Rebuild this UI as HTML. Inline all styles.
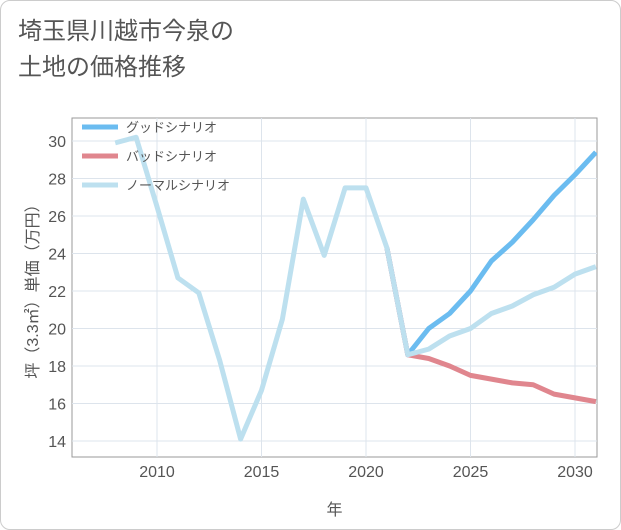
<!DOCTYPE html>
<html><head><meta charset="utf-8"><style>
body{margin:0;background:#fff;}
#card{position:absolute;left:0;top:0;width:619px;height:528px;border:1px solid #ccc;border-radius:10px;background:#fff;}
#title{position:absolute;left:18px;top:14px;font:24px "Liberation Sans","Noto Sans CJK JP",sans-serif;color:#555;line-height:36px;}
svg{position:absolute;left:0;top:0;}
text{font-family:"Liberation Sans","Noto Sans CJK JP",sans-serif;}
</style></head><body>
<div id="card"></div>
<div id="title">埼玉県川越市今泉の<br>土地の価格推移</div>
<svg id="chart" width="621" height="530"></svg>
<script>
const normalYears=[2008,2009,2010,2011,2012,2013,2014,2015,2016,2017,2018,2019,2020,2021,2022,2023,2024,2025,2026,2027,2028,2029,2030,2031];
const normalValues=[29.9,30.2,26.5,22.7,21.9,18.3,14.1,16.7,20.5,26.9,23.9,27.5,27.5,24.3,18.6,18.9,19.6,20.0,20.8,21.2,21.8,22.2,22.9,23.3];
const forecastYears=[2021,2022,2023,2024,2025,2026,2027,2028,2029,2030,2031];
const goodValues=[24.3,18.6,20.0,20.8,22.0,23.6,24.6,25.8,27.1,28.2,29.4];
const badValues=[24.3,18.6,18.4,18.0,17.5,17.3,17.1,17.0,16.5,16.3,16.1];
const xTicks=[2010,2015,2020,2025,2030];
const yTicks=[14,16,18,20,22,24,26,28,30];
const NS="http://www.w3.org/2000/svg";
const svg=document.getElementById('chart');
const L=72,R=597,T=118,B=457;
const x=v=>157+(v-2010)*20.9;
const y=v=>441-(v-14)*18.75;
function mk(t,a){const e=document.createElementNS(NS,t);for(const k in a)e.setAttribute(k,a[k]);svg.appendChild(e);return e;}
const bg=mk('rect',{x:L,y:T,width:R-L,height:B-T,fill:'#fff',stroke:'#999','stroke-width':1});


xTicks.forEach(t=>{
 const g=mk('line',{x1:x(t),x2:x(t),y1:T,y2:B,stroke:'#dde4ec'});
 
 
 const tx=mk('text',{x:x(t),y:B+20,'text-anchor':'middle','font-size':16,fill:'#555'});tx.textContent=t;
 
 
});
yTicks.forEach(t=>{
 const g=mk('line',{x1:L,x2:R,y1:y(t),y2:y(t),stroke:'#dde4ec'});
 
 
 const tx=mk('text',{x:L-6,y:y(t)+6,'text-anchor':'end','font-size':16,fill:'#555'});tx.textContent=t;
 
 
});
const xt=mk('text',{x:(L+R)/2,y:515,'text-anchor':'middle','font-size':16,fill:'#555'});xt.textContent='年';


const yt=mk('text',{x:0,y:0,'text-anchor':'middle','font-size':16,fill:'#555',transform:'translate(38,'+((T+B)/2)+') rotate(-90)'});yt.textContent='坪（3.3㎡）単価（万円）';


const clip=mk('clipPath',{id:'c'});const cr=document.createElementNS(NS,'rect');cr.setAttribute('x',L);cr.setAttribute('y',T);cr.setAttribute('width',R-L);cr.setAttribute('height',B-T);clip.appendChild(cr);
function line(xs,vs,col,name){
 const p=mk('polyline',{points:xs.map((v,i)=>x(v)+','+y(vs[i])).join(' '),fill:'none',stroke:col,'stroke-width':5,'stroke-linejoin':'round','clip-path':'url(#c)'});
 
 
}
line(forecastYears,goodValues,'#6bbcf0','good-scenario-line');
line(forecastYears,badValues,'#e0868e','bad-scenario-line');
line(normalYears,normalValues,'#bde0ef','normal-scenario-line');
[['グッドシナリオ','#6bbcf0'],['バッドシナリオ','#e0868e'],['ノーマルシナリオ','#bde0ef']].forEach((d,i)=>{
 const yy=127+i*29;
 const l=mk('line',{x1:82,x2:118,y1:yy,y2:yy,stroke:d[1],'stroke-width':5});
 
 
 const t=mk('text',{x:126,y:yy+5,'font-size':13,fill:'#555'});t.textContent=d[0];
 
 
});
</script>
</body></html>
